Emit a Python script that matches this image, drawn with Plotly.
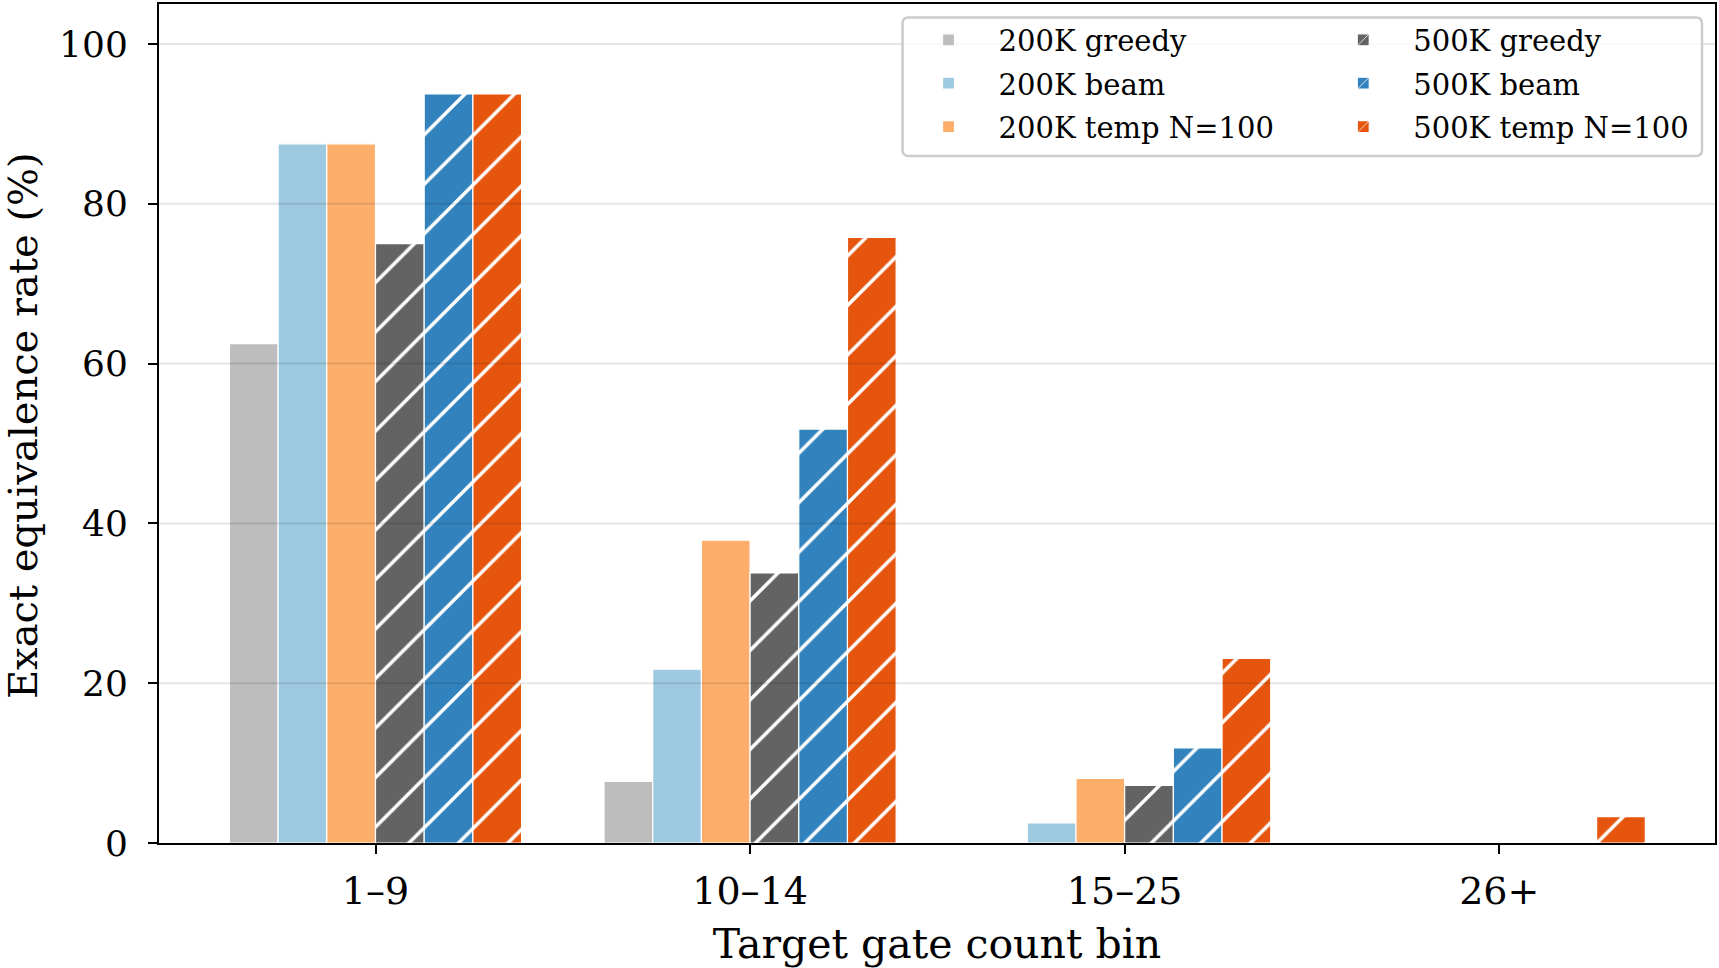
import plotly.graph_objects as go

categories = ["1–9", "10–14", "15–25", "26+"]
series_names = ["200K greedy", "200K beam", "200K temp N=100",
                "500K greedy", "500K beam", "500K temp N=100"]
v200_greedy = [62.5, 7.7, 0.0, 0.0]
v200_beam = [87.5, 21.75, 2.5, 0.0]
v200_temp = [87.5, 37.9, 8.1, 0.0]
v500_greedy = [75.0, 33.8, 7.2, 0.0]
v500_beam = [93.75, 51.8, 11.9, 0.0]
v500_temp = [93.75, 75.8, 23.1, 3.3]
series_values = [v200_greedy, v200_beam, v200_temp, v500_greedy, v500_beam, v500_temp]
colors = ["#bdbdbd", "#9ecae1", "#fdae6b", "#636363", "#3182bd", "#e6550d"]
hatched = [False, False, False, True, True, True]
y_ticks = [0, 20, 40, 60, 80, 100]

FONT = "DejaVu Serif"
W, H = 1719, 968
L, R, T, B = 159, 3, 1.5, 125

fig = go.Figure()
for i, (name, vals, col, hat) in enumerate(zip(series_names, series_values, colors, hatched)):
    marker = dict(color=col, line=dict(color="white", width=1.2))
    if hat:
        marker["pattern"] = dict(shape="/", fgcolor="white", bgcolor=col,
                                 size=35, solidity=0.1, fillmode="replace")
    fig.add_trace(go.Bar(
        x=list(range(len(categories))), y=vals, name=name, marker=marker,
        legend="legend" if i < 3 else "legend2", legendgroup=f"g{i}",
    ))

# grid lines drawn over bars, semi-transparent (as in reference)
for t in y_ticks[1:]:
    fig.add_shape(type="line", xref="paper", x0=0, x1=1, yref="y", y0=t, y1=t,
                  line=dict(color="rgba(0,0,0,0.10)", width=2), layer="above")

# legend frame (rounded)
pw = W - L - R
ph = H - T - B
def px2paper(x, y):
    return (x - L) / pw, (H - B - y) / ph
x0p, x1p, y0p, y1p = 903, 1703, 15, 154
r = 6
def P(x, y):
    a, b = px2paper(x, y)
    return f"{a:.5f},{b:.5f}"
path = (f"M {P(x0p+r, y0p)} L {P(x1p-r, y0p)} Q {P(x1p, y0p)} {P(x1p, y0p+r)} "
        f"L {P(x1p, y1p-r)} Q {P(x1p, y1p)} {P(x1p-r, y1p)} "
        f"L {P(x0p+r, y1p)} Q {P(x0p, y1p)} {P(x0p, y1p-r)} "
        f"L {P(x0p, y0p+r)} Q {P(x0p, y0p)} {P(x0p+r, y0p)} Z")
fig.add_shape(type="path", path=path, xref="paper", yref="paper",
              fillcolor="rgba(255,255,255,0.8)", line=dict(color="#cccccc", width=2.5),
              layer="above")

# y-axis title as annotation (plotly clamps axis titles inside the margin)
ytitle_x, _ = px2paper(23, 0)
fig.add_annotation(text="Exact equivalence rate (%)", textangle=-90,
                   xref="paper", yref="paper", x=ytitle_x, y=0.497,
                   xanchor="center", yanchor="middle", showarrow=False,
                   font=dict(family=FONT, size=40, color="black"))

legend_common = dict(font=dict(family=FONT, size=29, color="black"),
                     bgcolor="rgba(0,0,0,0)", borderwidth=0, tracegroupgap=2.7,
                     itemwidth=90, yanchor="top", xanchor="left")
lx1, ly = px2paper(899, 12)
lx2, _ = px2paper(1314, 12)
fig.update_layout(
    width=W, height=H,
    margin=dict(l=L, r=R, t=T, b=B),
    paper_bgcolor="white", plot_bgcolor="white",
    barmode="group", bargap=0.22, bargroupgap=0,
    font=dict(family=FONT, color="black"),
    legend=dict(x=lx1, y=ly, **legend_common),
    legend2=dict(x=lx2, y=ly, **legend_common),
    xaxis=dict(
        tickmode="array", tickvals=list(range(len(categories))), ticktext=categories,
        range=[-0.578, 3.576], showgrid=False, zeroline=False,
        showline=True, linecolor="black", linewidth=2, mirror=True,
        ticks="outside", ticklen=9, tickwidth=2, tickcolor="black",
        ticklabelstandoff=4,
        tickfont=dict(family=FONT, size=38, color="black"),
        title=dict(text="Target gate count bin", font=dict(family=FONT, size=41, color="black"),
                   standoff=18),
    ),
    yaxis=dict(
        range=[0, 105], tickmode="array", tickvals=y_ticks,
        showgrid=False, zeroline=False,
        showline=True, linecolor="black", linewidth=2, mirror=True,
        ticks="outside", ticklen=9, tickwidth=2, tickcolor="black",
        ticklabelstandoff=13,
        tickfont=dict(family=FONT, size=36, color="black"),
    ),
)
fig.write_html("out.html")
